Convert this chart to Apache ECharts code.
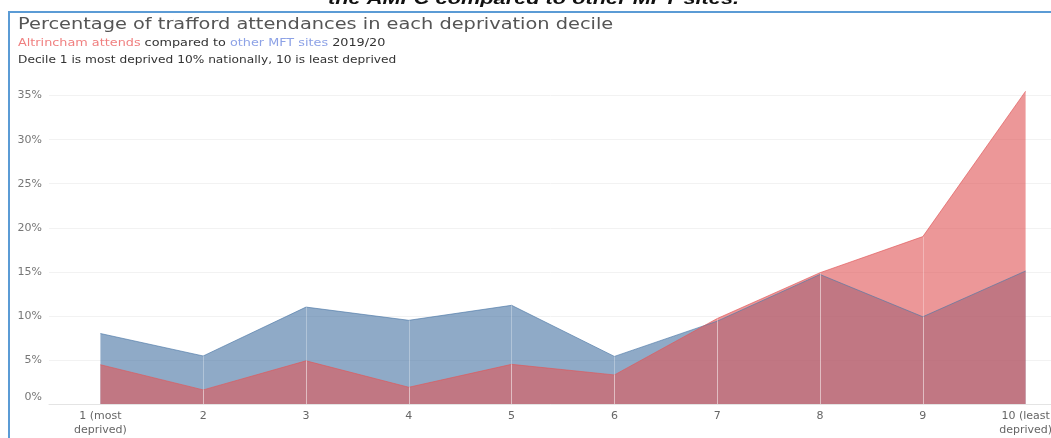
<!DOCTYPE html>
<html>
<head>
<meta charset="utf-8">
<script src="https://cdn.jsdelivr.net/npm/echarts@6/dist/echarts.min.js"></script>
<style>
  html, body { margin: 0; padding: 0; background: #fff; }
  #chart { width: 1051px; height: 438px; }
</style>
</head>
<body>
<div id="chart"></div>
<script>
// deprivation deciles
const deciles = ['1 (most\ndeprived)', '2', '3', '4', '5', '6', '7', '8', '9', '10 (least\ndeprived)']
// % of attendances, other MFT sites (blue)
const otherMft = [8.0, 5.45, 11.0, 9.5, 11.2, 5.4, 9.4, 14.7, 9.9, 15.1]
// % of attendances, Altrincham (red)
const altrincham = [4.46, 1.6, 4.9, 1.9, 4.5, 3.3, 9.7, 14.9, 19.0, 35.5]
const yTicks = [0, 5, 10, 15, 20, 25, 30, 35]

const chart = echarts.init(document.getElementById('chart'))

// faint seams at each inner decile, like the source's segment joins
const seams = vals => vals
  .map((v, i) => [{ coord: [deciles[i], 0] }, { coord: [deciles[i], v] }])
  .filter((_, i) => i > 0 && i < vals.length - 1)

const font = '"DejaVu Sans", sans-serif'
// the source screenshot is stretched sideways, so header text is widened a bit
const stretch = 1.22

chart.setOption({
  animation: false,
  graphic: [
    {
      type: 'rect', silent: true,
      shape: { x: 9, y: 12, width: 1200, height: 600 },
      style: { fill: 'none', stroke: '#5b9bd5', lineWidth: 2 }
    },
    {
      type: 'text', silent: true, x: 328, y: 8, scaleX: 1.28,
      style: {
        text: 'the AMFC compared to other MFT sites.',
        font: 'italic bold 17px "Liberation Sans", sans-serif',
        fill: '#111', verticalAlign: 'bottom'
      }
    },
    {
      type: 'text', silent: true, x: 18, y: 25, scaleX: 1.29,
      style: {
        text: 'Percentage of trafford attendances in each deprivation decile',
        font: '15px ' + font, fill: '#555', verticalAlign: 'middle'
      }
    },
    {
      type: 'text', silent: true, x: 18, y: 43, scaleX: stretch,
      style: {
        text: '{r|Altrincham attends} compared to {b|other MFT sites} 2019/20',
        font: '10.5px ' + font, fill: '#333', verticalAlign: 'middle',
        rich: {
          r: { fontFamily: font, fontSize: 10.5, fill: '#f08080' },
          b: { fontFamily: font, fontSize: 10.5, fill: '#8da2e6' }
        }
      }
    },
    {
      type: 'text', silent: true, x: 18, y: 60, scaleX: stretch,
      style: {
        text: 'Decile 1 is most deprived 10% nationally, 10 is least deprived',
        font: '10px ' + font, fill: '#333', verticalAlign: 'middle'
      }
    }
  ],
  grid: { left: 49, top: 78, width: 1028, height: 326, outerBoundsMode: 'none' },
  xAxis: {
    type: 'category',
    data: deciles,
    boundaryGap: true,
    axisLine: { lineStyle: { color: '#e4e4e4' } },
    axisTick: { length: 4, lineStyle: { color: '#e4e4e4' } },
    axisLabel: { fontFamily: font, fontSize: 11, color: '#666', lineHeight: 14, margin: 5 },
    splitLine: { show: false }
  },
  yAxis: {
    type: 'value',
    min: 0, max: 37, interval: 5,
    axisLine: { show: false },
    axisTick: { show: false },
    splitLine: { showMaxLine: false, lineStyle: { color: '#f2f2f2' } },
    axisLabel: {
      fontFamily: font, fontSize: 11, color: '#777', margin: 7,
      showMaxLabel: false,
      formatter: v => yTicks.includes(v) ? (v === 0 ? '{z|0%}' : v + '%') : '',
      rich: { z: { fontFamily: font, fontSize: 11, color: '#777', padding: [0, 0, 14, 0] } }
    }
  },
  series: [
    {
      name: 'other MFT sites',
      type: 'line',
      data: otherMft,
      symbol: 'none',
      lineStyle: { width: 1, color: '#4e79a7', opacity: 0.65 },
      areaStyle: { color: '#4e79a7', opacity: 0.63 },
      markLine: {
        silent: true, symbol: 'none', label: { show: false },
        lineStyle: { color: 'rgba(255,255,255,0.3)', width: 1, type: 'solid' },
        data: seams(otherMft)
      }
    },
    {
      name: 'Altrincham attends',
      type: 'line',
      data: altrincham,
      symbol: 'none',
      lineStyle: { width: 1, color: '#e15759', opacity: 0.65 },
      areaStyle: { color: '#e15759', opacity: 0.62 },
      markLine: {
        silent: true, symbol: 'none', label: { show: false },
        lineStyle: { color: 'rgba(255,255,255,0.3)', width: 1, type: 'solid' },
        data: seams(altrincham)
      }
    }
  ]
})
</script>
</body>
</html>
